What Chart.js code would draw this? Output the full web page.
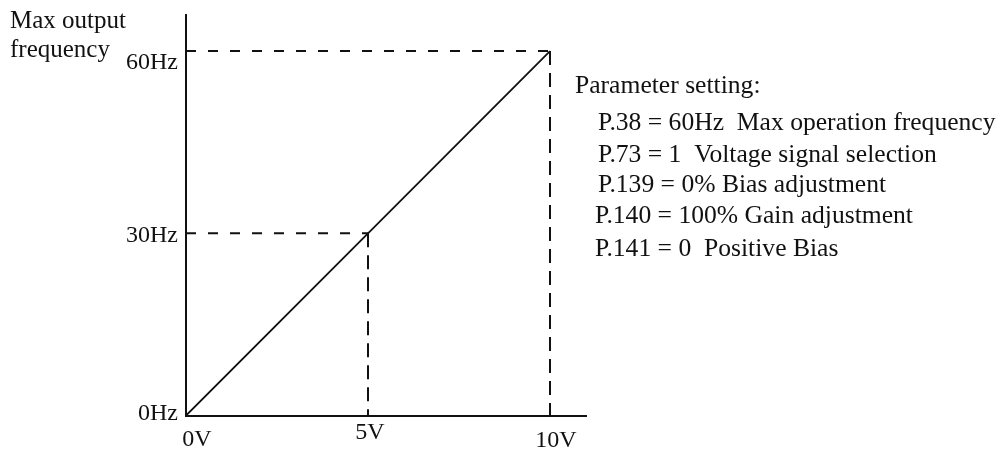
<!DOCTYPE html>
<html>
<head>
<meta charset="utf-8">
<script src="https://cdn.jsdelivr.net/npm/chart.js@4/dist/chart.umd.min.js"></script>
<style>
  html, body { margin: 0; padding: 0; background: #fff; }
  #wrap { width: 1003px; height: 451px; position: relative; }
</style>
</head>
<body>
<div id="wrap"><canvas id="c" width="1003" height="451"></canvas></div>
<script>
// Analog input voltage (V) and resulting output frequency (Hz)
const volts = [0, 5, 10];
const freqs = [0, 30, 60];
const voltLabels = ['0V', '5V', '10V'];
const freqLabels = ['0Hz', '30Hz', '60Hz'];
const yTitle = ['Max output', 'frequency'];
const paramTitle = 'Parameter setting:';
const paramLines = [
  'P.38 = 60Hz  Max operation frequency',
  'P.73 = 1  Voltage signal selection',
  'P.139 = 0% Bias adjustment',
  'P.140 = 100% Gain adjustment',
  'P.141 = 0  Positive Bias'
];

const FONT = '"Liberation Serif", "Times New Roman", serif';

// Solid characteristic line from 0V/0Hz to 10V/60Hz
const mainLine = volts.map((v, i) => ({ x: v, y: freqs[i] }));
// Dashed guides: horizontal from the y axis to the curve, vertical down to the x axis
const hGuides = [];
const vGuides = [];
for (let i = 1; i < volts.length; i++) {
  hGuides.push({ x: 0, y: freqs[i] }, { x: volts[i], y: freqs[i] }, { x: null, y: null });
  vGuides.push({ x: volts[i], y: freqs[i] }, { x: volts[i], y: 0 }, { x: null, y: null });
}

const textPlugin = {
  id: 'textLayer',
  afterDraw(chart) {
    const ctx = chart.ctx;
    const xs = chart.scales.x, ys = chart.scales.y;
    ctx.save();
    ctx.fillStyle = '#111';
    ctx.font = '24px ' + FONT;
    // y tick labels
    ctx.textAlign = 'right';
    ctx.textBaseline = 'alphabetic';
    const yOff = [4, 9, 18];
    freqLabels.forEach((t, i) => {
      ctx.fillText(t, xs.left - 8, ys.getPixelForValue(freqs[i]) + yOff[i]);
    });
    // x tick labels
    ctx.textAlign = 'center';
    const xDx = [11, 2, 6];
    const xBase = [446, 439, 447];
    voltLabels.forEach((t, i) => {
      ctx.fillText(t, xs.getPixelForValue(volts[i]) + xDx[i], xBase[i]);
    });
    // axis title
    ctx.font = '25px ' + FONT;
    ctx.textAlign = 'left';
    ctx.fillText(yTitle[0], 10, 28);
    ctx.fillText(yTitle[1], 10, 57);
    // parameter block
    ctx.font = '25.6px ' + FONT;
    ctx.fillText(paramTitle, 575, 93);
    const px = [598, 598, 598, 595, 595];
    const py = [130, 162, 192, 223, 256];
    paramLines.forEach((t, i) => ctx.fillText(t, px[i], py[i]));
    ctx.restore();
  }
};

new Chart(document.getElementById('c'), {
  type: 'scatter',
  data: {
    datasets: [
      { data: mainLine, showLine: true, borderColor: '#111', borderWidth: 1.8, pointRadius: 0, fill: false },
      { data: hGuides, showLine: true, spanGaps: false, borderColor: '#111', borderWidth: 2, borderDash: [10, 12], pointRadius: 0, fill: false },
      { data: vGuides, showLine: true, spanGaps: false, borderColor: '#111', borderWidth: 2, borderDash: [14, 8], pointRadius: 0, fill: false }
    ]
  },
  options: {
    responsive: false,
    animation: false,
    events: [],
    layout: { padding: { left: 186, right: 416.6, top: 14.6, bottom: 35.4 } },
    plugins: { legend: { display: false }, tooltip: { enabled: false } },
    scales: {
      x: {
        type: 'linear', min: 0, max: 11,
        grid: { display: false, drawTicks: false },
        border: { display: true, color: '#111', width: 2 },
        ticks: { display: false }
      },
      y: {
        type: 'linear', min: 0, max: 66,
        grid: { display: false, drawTicks: false },
        border: { display: true, color: '#111', width: 2 },
        ticks: { display: false }
      }
    }
  },
  plugins: [textPlugin]
});
</script>
</body>
</html>
